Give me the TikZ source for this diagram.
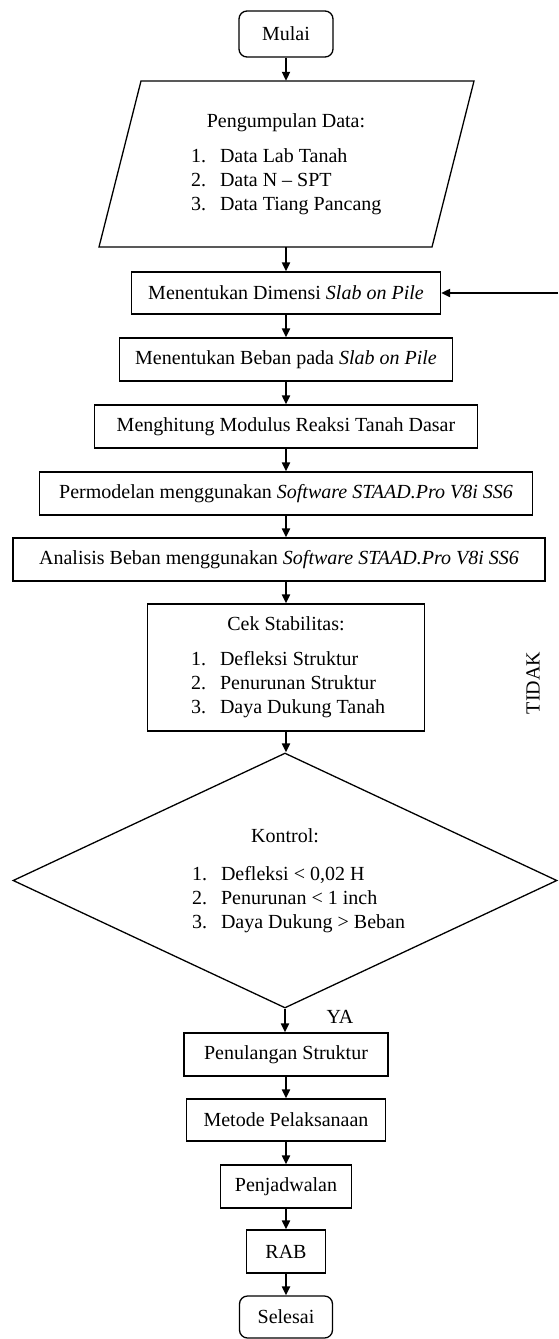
\documentclass[tikz,border=0pt]{standalone}
\usepackage{fontspec}
\setmainfont{Liberation Serif}
\usetikzlibrary{arrows.meta,shapes.geometric}
\newcommand{\myitem}[3]{\makebox[#1][l]{\makebox[29pt][l]{#2}#3}}
\begin{document}
\begin{tikzpicture}[x=1pt,y=-1pt,
  every node/.style={font=\fontsize{20}{24}\selectfont},
  proc/.style={draw, line width=1.3pt, rectangle, inner sep=0pt, align=center},
  term/.style={proc, rounded corners=8pt},
  arr/.style={line width=2pt, -{Triangle[length=9pt,width=8pt]}},
  shp/.style={draw, line width=1.3pt}
]
\useasboundingbox (0,0) rectangle (558,1339);

% start
\node[term, minimum width=94pt, minimum height=46pt] (mulai) at (286,34) {Mulai};

% parallelogram (input data)
\coordinate (p1) at (141,81);
\coordinate (p2) at (474,81);
\coordinate (p3) at (432,247);
\coordinate (p4) at (99,247);
\draw[shp] (p1) -- (p2) -- (p3) -- (p4) -- cycle;
\node[inner sep=0pt, minimum width=250pt, minimum height=166pt] (data) at (286,164)
  {\begin{tabular}{@{}c@{}}Pengumpulan Data:\\[11pt]
   \myitem{190pt}{1.}{Data Lab Tanah}\\
   \myitem{190pt}{2.}{Data N – SPT}\\
   \myitem{190pt}{3.}{Data Tiang Pancang}\end{tabular}};

% process boxes
\node[proc, minimum width=309pt, minimum height=42pt] (dim) at (286,293)
  {Menentukan Dimensi \textit{Slab on Pile}};
\node[proc, minimum width=333pt, minimum height=43pt] (beban) at (286,359.5)
  {Menentukan Beban pada \textit{Slab on Pile}};
\node[proc, minimum width=383pt, minimum height=43pt] (modulus) at (286,426.5)
  {Menghitung Modulus Reaksi Tanah Dasar};
\node[proc, minimum width=493pt, minimum height=43pt] (model) at (286,493.5)
  {Permodelan menggunakan \textit{Software STAAD.Pro V8i SS6}};
\node[proc, minimum width=532pt, minimum height=43pt] (analisis) at (279,559.5)
  {Analisis Beban menggunakan \textit{Software STAAD.Pro V8i SS6}};
\node[proc, minimum width=277pt, minimum height=127pt] (cek) at (286,667.5)
  {\begin{tabular}{@{}c@{}}Cek Stabilitas:\\[11pt]
   \myitem{190pt}{1.}{Defleksi Struktur}\\
   \myitem{190pt}{2.}{Penurunan Struktur}\\
   \myitem{190pt}{3.}{Daya Dukung Tanah}\end{tabular}};

% decision
\node[shape=diamond, draw, line width=1.3pt, inner sep=0pt, aspect=2.13,
      minimum width=544pt, minimum height=255pt] (kontrol) at (285,880.5)
  {\begin{tabular}{@{}c@{}}Kontrol:\\[14pt]
   \myitem{186pt}{1.}{Defleksi < 0,02 H}\\
   \myitem{186pt}{2.}{Penurunan < 1 inch}\\
   \myitem{186pt}{3.}{Daya Dukung > Beban}\end{tabular}};

\node[proc, minimum width=204pt, minimum height=43pt] (tul) at (286,1054.5)
  {Penulangan Struktur};
\node[proc, minimum width=199pt, minimum height=42pt] (metode) at (286,1120)
  {Metode Pelaksanaan};
\node[proc, minimum width=131pt, minimum height=43pt] (jadwal) at (286,1186.5)
  {Penjadwalan};
\node[proc, minimum width=79pt, minimum height=43pt] (rab) at (286,1251.5)
  {RAB};
\node[term, minimum width=93pt, minimum height=42pt] (selesai) at (286,1317)
  {Selesai};

% labels
\node[rotate=90, inner sep=0pt] (tidak) at (533,683) {TIDAK};
\node[inner sep=0pt] (ya) at (340,1017) {YA};

% connectors
\draw[arr] (mulai.south) -- (mulai.south |- data.north);
\draw[arr] (data.south) -- (data.south |- dim.north);
\draw[arr] (dim.south) -- (dim.south |- beban.north);
\draw[arr] (beban.south) -- (beban.south |- modulus.north);
\draw[arr] (modulus.south) -- (modulus.south |- model.north);
\draw[arr] (model.south) -- (model.south |- analisis.north);
\draw[arr] (model.south |- analisis.south) -- (model.south |- cek.north);
\draw[arr] (cek.south) -- (cek.south |- kontrol.north);
\draw[arr] (kontrol.south) -- (kontrol.south |- tul.north);
\draw[arr] (tul.south) -- (metode.north);
\draw[arr] (metode.south) -- (jadwal.north);
\draw[arr] (jadwal.south) -- (rab.north);
\draw[arr] (rab.south) -- (selesai.north);
\coordinate (fb) at (558,293);
\draw[arr] (fb) -- (dim.east);
\end{tikzpicture}
\end{document}
